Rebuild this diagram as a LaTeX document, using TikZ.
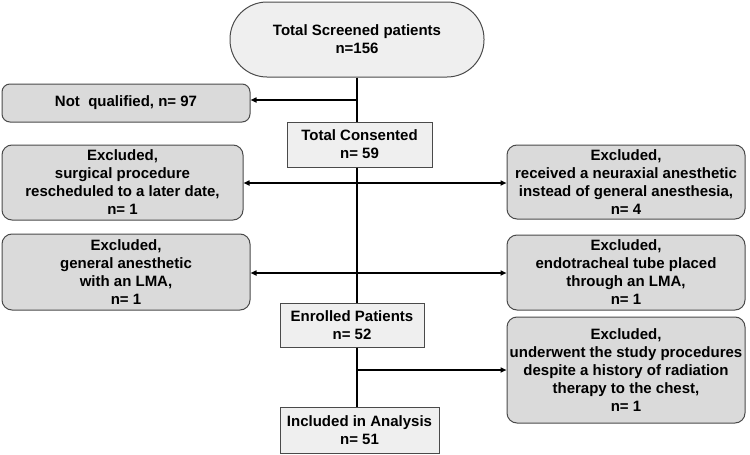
\documentclass[tikz,border=0pt]{standalone}
\usepackage{fontspec}
\setmainfont{Liberation Sans}
\usetikzlibrary{arrows.meta}
\definecolor{rbox}{HTML}{DADADA}
\definecolor{sbox}{HTML}{EFEFEF}
\definecolor{edge}{HTML}{4A4A4A}
\begin{document}
\begin{tikzpicture}[x=1pt,y=-1pt,
  every node/.style={font=\bfseries\fontsize{15}{18}\selectfont, align=center, inner sep=0pt},
  exclbox/.style={draw=edge, line width=1pt, fill=rbox, rounded corners=10pt},
  sqbox/.style={draw=edge, line width=1pt, fill=sbox},
  link/.style={line width=1.5pt, black},
  arr/.style={link, -{Triangle[length=6pt,width=5pt]}}]
\useasboundingbox (0,0) rectangle (750,455);
\node[draw=edge, line width=1pt, fill=sbox, rounded corners=37pt, minimum width=254pt, minimum height=75pt] (top) at (357,39.5) {Total Screened patients\\n=156};
\node[exclbox, rounded corners=8pt, minimum width=248pt, minimum height=38pt] (notq) at (126,103) {Not\ \ qualified, n= 97};
\node[sqbox, minimum width=145pt, minimum height=45pt] (cons) at (359.5,144.5) {Total Consented\\n= 59};
\node[exclbox, minimum width=241pt, minimum height=75pt] (surg) at (122.5,182.5) {Excluded,\\surgical procedure\\rescheduled to a later date,\\n= 1};
\node[exclbox, minimum width=238pt, minimum height=74pt] (neur) at (626,182) {Excluded,\\received a neuraxial anesthetic\\instead of general anesthesia,\\n= 4};
\node[exclbox, minimum width=248pt, minimum height=76pt] (lma) at (126,272) {Excluded,\\general anesthetic\\with an LMA,\\n= 1};
\node[exclbox, minimum width=238pt, minimum height=75pt] (endo) at (626,272.5) {Excluded,\\endotracheal tube placed\\through an LMA,\\n= 1};
\node[sqbox, minimum width=144pt, minimum height=44pt] (enr) at (352,325) {Enrolled Patients\\n= 52};
\node[exclbox, minimum width=238pt, minimum height=106pt] (rad) at (626,370) {Excluded,\\underwent the study procedures\\despite a history of radiation\\therapy to the chest,\\n= 1};
\node[sqbox, minimum width=159pt, minimum height=46pt] (incl) at (359.5,430) {Included in Analysis\\n= 51};
\coordinate (b1) at (357,100);
\coordinate (b2) at (357,183);
\coordinate (b3) at (357,273);
\coordinate (b4) at (357,370);
\draw[link] (top.south -| b1) -- (cons.north -| b1);
\draw[link] (cons.south -| b1) -- (enr.north -| b1);
\draw[link] (enr.south -| b1) -- (incl.north -| b1);
\draw[arr] (b1) -- (notq.east |- b1);
\draw[arr] (b2) -- (surg.east |- b2);
\draw[arr] (b2) -- (neur.west |- b2);
\draw[arr] (b3) -- (lma.east |- b3);
\draw[arr] (b3) -- (endo.west |- b3);
\draw[arr] (b4) -- (rad.west |- b4);
\end{tikzpicture}
\end{document}
